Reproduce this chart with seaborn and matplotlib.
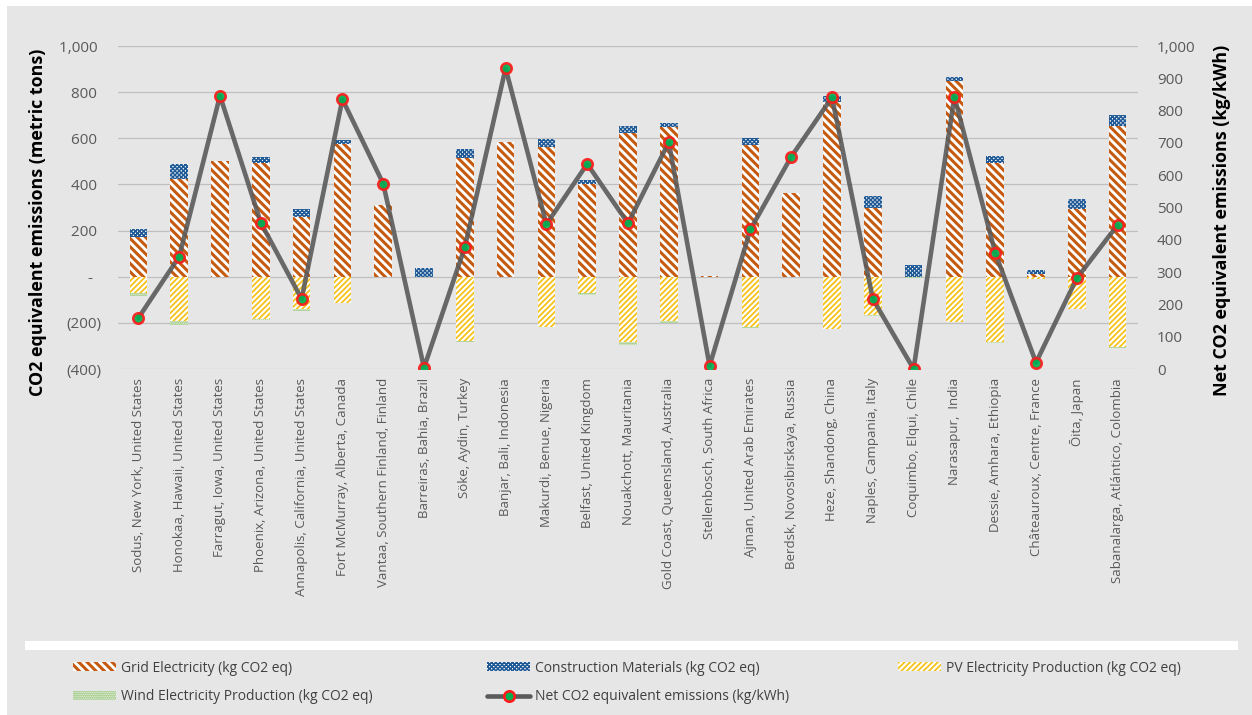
import numpy as np
import matplotlib
matplotlib.use("Agg")
import matplotlib.pyplot as plt
from matplotlib.patches import Patch, Rectangle
from matplotlib.lines import Line2D
from matplotlib import font_manager as fm
import seaborn as sns

# ---- data -------------------------------------------------------------
sites = [
    "Sodus, New York, United States",
    "Honokaa, Hawaii, United States",
    "Farragut, Iowa, United States",
    "Phoenix, Arizona, United States",
    "Annapolis, California, United States",
    "Fort McMurray, Alberta, Canada",
    "Vantaa, Southern Finland, Finland",
    "Barreiras, Bahia, Brazil",
    "Söke, Aydin, Turkey",
    "Banjar, Bali, Indonesia",
    "Makurdi, Benue, Nigeria",
    "Belfast, United Kingdom",
    "Nouakchott, Mauritania",
    "Gold Coast, Queensland, Australia",
    "Stellenbosch, South Africa",
    "Ajman, United Arab Emirates",
    "Berdsk, Novosibirskaya, Russia",
    "Heze, Shandong, China",
    "Naples, Campania, Italy",
    "Coquimbo, Elqui, Chile",
    "Narasapur,  India",
    "Dessie, Amhara, Ethiopia",
    "Châteauroux, Centre, France",
    "Ōita, Japan",
    "Sabanalarga, Atlántico, Colombia",
]

# metric tons CO2 eq (left axis)
grid_electricity = [170, 425, 502, 492, 257, 574, 312, 0, 516, 586, 564, 404, 625,
                    649, 3, 571, 361, 758, 300, 0, 848, 492, 10, 293, 654]
construction = [36, 63, 0, 29, 36, 18, 0, 38, 39, 0, 32, 14, 29,
                19, 0, 32, 0, 24, 50, 51, 18, 32, 19, 43, 47]
pv_production = [-70, -190, 0, -185, -142, -113, 0, 0, -278, 0, -217, -72, -283,
                 -192, 0, -220, 0, -225, -168, 0, -195, -284, -8, -140, -305]
wind_production = [-12, -18, 0, -3, -5, -3, 0, 0, -3, 0, -3, -8, -12,
                   -8, 0, -3, 0, -3, -3, -4, -3, -3, -2, -2, -3]

# kg/kWh (right axis)
net_emissions = [158, 348, 846, 453, 217, 835, 574, 4, 377, 931, 448, 635, 451,
                 702, 10, 432, 657, 841, 217, 0, 843, 360, 20, 281, 446]

left_ticks = [-400, -200, 0, 200, 400, 600, 800, 1000]
left_tick_labels = ["(400)", "(200)", "-  ", "200 ", "400 ", "600 ", "800 ", "1,000 "]
right_ticks = [0, 100, 200, 300, 400, 500, 600, 700, 800, 900, 1000]
right_tick_labels = ["0", "100", "200", "300", "400", "500", "600", "700", "800", "900", "1,000"]

series_names = [
    "Grid Electricity (kg CO2 eq)",
    "Construction Materials (kg CO2 eq)",
    "PV Electricity Production (kg CO2 eq)",
    "Wind Electricity Production (kg CO2 eq)",
    "Net CO2 equivalent emissions (kg/kWh)",
]

# ---- styling ----------------------------------------------------------
BG = "#E7E6E6"
TICK_GREY = "#595959"
GRID_BROWN = "#C55A11"
CONSTR_BLUE = "#1F5A96"
PV_YELLOW = "#F5C21B"
WIND_GREEN = "#70AD47"
LINE_GREY = "#5A5A5A"

HATCH_GRID = "\\" * 4
HATCH_CONSTR = "x" * 8
HATCH_PV = "/" * 6
HATCH_WIND = "." * 8
HLW_GRID, HLW_CONSTR, HLW_PV, HLW_WIND = 2.2, 1.1, 1.3, 1.0

sns.set_theme(style="white")
plt.rcParams["font.family"] = ["Open Sans", "DejaVu Sans"]


def font_available(name):
    try:
        fm.findfont(fm.FontProperties(family=name), fallback_to_default=False)
        return True
    except Exception:
        return False


legend_family = ["Liberation Sans Narrow", "DejaVu Sans"] if font_available("Liberation Sans Narrow") \
    else ["Open Sans", "DejaVu Sans"]

W, H = 1252, 715
fig = plt.figure(figsize=(W / 100, H / 100), dpi=100, facecolor="white")

# grey chart area and the white strip above the legend
fig.patches.append(Rectangle((7 / W, 0), 1 - 7 / W, 1 - 6 / H, transform=fig.transFigure,
                             facecolor=BG, edgecolor="none", zorder=-10))
fig.patches.append(Rectangle((25 / W, 1 - 650 / H), 1213 / W, 9 / H, transform=fig.transFigure,
                             facecolor="white", edgecolor="none", zorder=-5))

ax = fig.add_axes([118 / W, 1 - 369 / H, 1020 / W, 323 / H])
ax.set_facecolor("none")

BAR_W = 0.43

# (values, face, edge, hatch, hatch linewidth) drawn back to front so stacked
# segments are layered from the baseline
bar_layers = [
    ([g + c for g, c in zip(grid_electricity, construction)], "white", CONSTR_BLUE, HATCH_CONSTR, HLW_CONSTR),
    (grid_electricity, "white", GRID_BROWN, HATCH_GRID, HLW_GRID),
    ([p + w for p, w in zip(pv_production, wind_production)], "white", WIND_GREEN, HATCH_WIND, HLW_WIND),
    (pv_production, "white", PV_YELLOW, HATCH_PV, HLW_PV),
]

for vals, face, edge, hatch, hlw in bar_layers:
    before = set(ax.patches)
    with plt.rc_context({"hatch.linewidth": hlw}):
        sns.barplot(x=sites, y=vals, ax=ax, color=face, saturation=1, width=BAR_W,
                    errorbar=None, linewidth=0)
    for p in ax.patches:
        if p in before:
            continue
        p.set_facecolor(face)
        p.set_edgecolor(edge)
        p.set_linewidth(0)
        p.set_hatch(hatch)
        if hasattr(p, "set_hatch_linewidth"):
            p.set_hatch_linewidth(hlw)

ax.set_ylim(-400, 1000)
ax.set_yticks(left_ticks)
ax.set_yticklabels(left_tick_labels)
ax.yaxis.grid(True, color="#BFBFBF", linewidth=0.9)
ax.xaxis.grid(False)
ax.set_axisbelow(True)
for s in ax.spines.values():
    s.set_visible(False)

# ---- net emissions on the secondary axis -------------------------------
ax2 = ax.twinx()
ax2.set_facecolor("none")
sns.lineplot(x=sites, y=net_emissions, ax=ax2, sort=False, errorbar=None,
             color=LINE_GREY, linewidth=3.3, alpha=0.9, marker="o", markersize=7.5,
             markerfacecolor="#00B050", markeredgecolor="#FF1A1A", markeredgewidth=1.9,
             zorder=5)
ax2.set_ylim(0, 1000)
ax2.set_yticks(right_ticks)
ax2.set_yticklabels(right_tick_labels)
ax2.grid(False)
for s in ax2.spines.values():
    s.set_visible(False)

ax.set_xlim(-0.5, len(sites) - 0.5)
ax.set_xticks(range(len(sites)))
ax.set_xticklabels(sites, rotation=90, fontsize=9.5, color=TICK_GREY)
ax.tick_params(axis="x", length=0, pad=6.5)
ax.tick_params(axis="y", length=0, pad=12, labelsize=11, labelcolor=TICK_GREY)
ax2.tick_params(axis="y", length=0, pad=13.5, labelsize=11, labelcolor=TICK_GREY)

ax.set_xlabel("")
ax.set_ylabel("CO2 equivalent emissions (metric tons)", fontsize=12.9, fontweight="bold",
              color="black")
ax.yaxis.label.set_va("center")
ax.yaxis.set_label_coords(-0.078, 0.455)
ax2.set_xlabel("")
ax2.set_ylabel("Net CO2 equivalent emissions (kg/kWh)", fontsize=12.9, fontweight="bold",
               color="black", rotation=90)
ax2.yaxis.label.set_va("center")
ax2.yaxis.set_label_coords(1.0824, 0.46)

# ---- legend -------------------------------------------------------------
legend_handles = [
    (Patch(facecolor="white", edgecolor=GRID_BROWN, hatch=HATCH_GRID, linewidth=0), HLW_GRID),
    (Patch(facecolor="white", edgecolor=CONSTR_BLUE, hatch=HATCH_CONSTR, linewidth=0), HLW_CONSTR),
    (Patch(facecolor="white", edgecolor=PV_YELLOW, hatch=HATCH_PV, linewidth=0), HLW_PV),
    (Patch(facecolor="white", edgecolor=WIND_GREEN, hatch=HATCH_WIND, linewidth=0), HLW_WIND),
    (Line2D([], [], color=LINE_GREY, linewidth=3.3, marker="o", markersize=7.5,
            markerfacecolor="#00B050", markeredgecolor="#FF1A1A", markeredgewidth=1.9), 1.0),
]
legend_pos = [(73, 668), (487, 668), (898, 668), (73, 697), (487, 697)]

for (handle, hlw), name, (lx, ly) in zip(legend_handles, series_names, legend_pos):
    with plt.rc_context({"hatch.linewidth": hlw}):
        leg = fig.legend([handle], [name], loc="center left",
                         bbox_to_anchor=(lx / W, 1 - ly / H), bbox_transform=fig.transFigure,
                         frameon=False, borderpad=0, borderaxespad=0,
                         handlelength=3.1, handleheight=0.6, handletextpad=0.35,
                         prop={"family": legend_family, "size": 10})
    for t in leg.get_texts():
        t.set_color("#404040")
    for lh in leg.legend_handles:
        if hasattr(lh, "set_hatch_linewidth"):
            lh.set_hatch_linewidth(hlw)

fig.savefig("out.png", dpi=100, facecolor="white")
